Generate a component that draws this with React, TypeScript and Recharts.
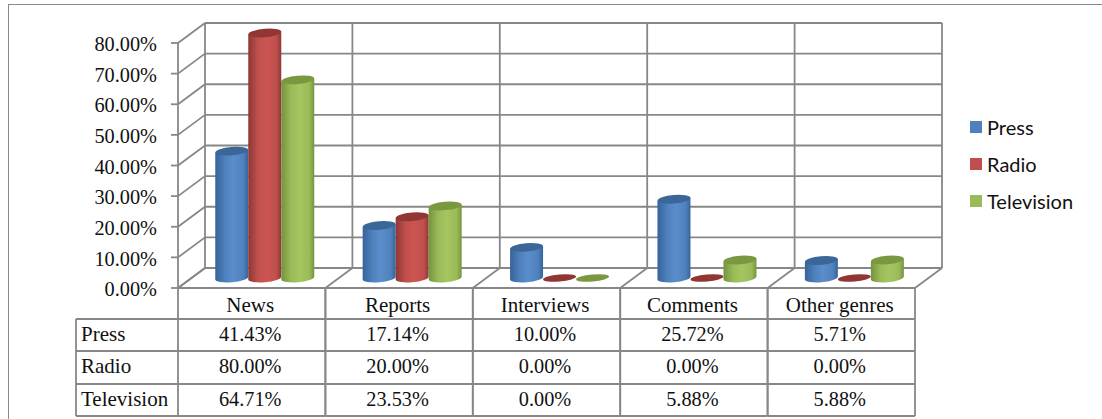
import React from 'react';
import { BarChart, Bar, XAxis, YAxis, CartesianGrid, Legend } from 'recharts';

const genres = ['News', 'Reports', 'Interviews', 'Comments', 'Other genres'];
const press = [41.43, 17.14, 10.0, 25.72, 5.71];
const radio = [80.0, 20.0, 0.0, 0.0, 0.0];
const television = [64.71, 23.53, 0.0, 5.88, 5.88];
const yTicks = [0, 10, 20, 30, 40, 50, 60, 70, 80];

const rows = [
  { name: 'Press', values: press, color: '#4f81bd', side: '#37639a', lit: '#5a8dcb', top: '#3a6797' },
  { name: 'Radio', values: radio, color: '#c0504d', side: '#8c3836', lit: '#cc5551', top: '#913634' },
  { name: 'Television', values: television, color: '#9bbb59', side: '#76933e', lit: '#a4c55f', top: '#7a9840' },
];

const data = genres.map((genre, i) => ({
  genre,
  Press: press[i],
  Radio: radio[i],
  Television: television[i],
}));

const WIDTH = 1102;
const HEIGHT = 419;
const LEFT = 178;
const RIGHT = 915;
const TOP = 43;
const BOTTOM = 288;
const BAND = (RIGHT - LEFT) / genres.length;
const GRID = '#878787';
const SERIF = '"Liberation Serif", serif';

// depth of the fake 3D box
const DEPTH_X = 27;
const DEPTH_Y = 20;

// table lines below the floor
const TABLE_LEFT = 76;
const TABLE_ROWS = [319, 351, 384, 416];

const pct = (v: number) => `${v.toFixed(2)}%`;

function wallLine(props: any) {
  const { x1, x2, y1, key } = props;
  return (
    <g key={key}>
      <line x1={x1} y1={y1} x2={x1 + DEPTH_X} y2={y1 - DEPTH_Y} stroke={GRID} strokeWidth={1.8} />
      <line x1={x1 + DEPTH_X} y1={y1 - DEPTH_Y} x2={x2 + DEPTH_X} y2={y1 - DEPTH_Y} stroke={GRID} strokeWidth={1.8} />
    </g>
  );
}

function wallColumn(props: any) {
  const { x1, y1, y2, key } = props;
  return (
    <g key={key}>
      <line x1={x1 + DEPTH_X} y1={y1 - DEPTH_Y} x2={x1 + DEPTH_X} y2={y2 - DEPTH_Y} stroke={GRID} strokeWidth={1.8} />
      <line x1={x1} y1={y2} x2={x1 + DEPTH_X} y2={y2 - DEPTH_Y} stroke={GRID} strokeWidth={1.8} />
    </g>
  );
}

function makeCylinder(index: number) {
  const row = rows[index];
  return function Cylinder(props: any) {
    const { x, y, width, height } = props;
    const cx = x + DEPTH_X / 2 - 1;
    const top = y - DEPTH_Y / 2;
    const bottom = top + height;
    const rx = width / 2;
    const ry = 4.2;
    const tilt = 1.4;
    const right = cx + width;
    return (
      <g>
        {height > 0 && (
          <path
            d={`M${cx},${top + tilt} L${cx},${bottom + tilt} A${rx},${ry} -5 0 0 ${right},${bottom - tilt} L${right},${top - tilt} Z`}
            fill={`url(#cyl${index})`}
          />
        )}
        <ellipse
          cx={cx + rx}
          cy={top}
          rx={rx}
          ry={height > 0 ? ry : 3.4}
          fill={row.top}
          transform={`rotate(-5 ${cx + rx} ${top})`}
        />
      </g>
    );
  };
}

function TableColumn(props: any) {
  const { x, index, payload } = props;
  const x0 = x - BAND / 2;
  const x1 = x + BAND / 2;
  const labelProps = { fontFamily: SERIF, fontSize: 21, fill: '#111' };
  const valueProps = { fontFamily: SERIF, fontSize: 20.3, fill: '#111' };
  return (
    <g>
      <line x1={x0} y1={BOTTOM} x2={x0} y2={TABLE_ROWS[3]} stroke={GRID} strokeWidth={1.8} />
      <line x1={x1} y1={BOTTOM} x2={x1} y2={TABLE_ROWS[3]} stroke={GRID} strokeWidth={1.8} />
      {TABLE_ROWS.map((ry) => (
        <line key={ry} x1={x0} y1={ry} x2={x1} y2={ry} stroke={GRID} strokeWidth={1.8} />
      ))}
      <text x={x - 1.5} y={312} textAnchor="middle" {...labelProps}>
        {payload.value}
      </text>
      {rows.map((row, r) => (
        <text key={row.name} x={x - 1.5} y={TABLE_ROWS[r] + 22} textAnchor="middle" {...valueProps}>
          {pct(row.values[index])}
        </text>
      ))}
      {index === 0 && (
        <g>
          <line x1={TABLE_LEFT} y1={TABLE_ROWS[0]} x2={TABLE_LEFT} y2={TABLE_ROWS[3]} stroke={GRID} strokeWidth={1.8} />
          {TABLE_ROWS.map((ry) => (
            <line key={ry} x1={TABLE_LEFT} y1={ry} x2={x0} y2={ry} stroke={GRID} strokeWidth={1.8} />
          ))}
          {rows.map((row, r) => (
            <text key={row.name} x={81} y={TABLE_ROWS[r] + 22} {...labelProps}>
              {row.name}
            </text>
          ))}
        </g>
      )}
    </g>
  );
}

function LegendList(props: any) {
  const { payload } = props;
  return (
    <div>
      {payload.map((item: any) => (
        <div
          key={item.value}
          style={{ display: 'flex', alignItems: 'center', height: 37, fontFamily: 'Lato, sans-serif', fontSize: 20, color: '#111' }}
        >
          <span style={{ width: 12, height: 12, background: item.color, marginRight: 5 }} />
          {item.value}
        </div>
      ))}
    </div>
  );
}

export default function App() {
  return (
    <div style={{ position: 'absolute', left: 0, top: 0, width: WIDTH, height: HEIGHT, background: '#fff' }}>
      <div
        style={{
          position: 'absolute',
          left: 8,
          top: 4,
          right: 0,
          bottom: 0,
          borderTop: '1.5px solid #8a8a8a',
          borderLeft: '1.5px solid #8a8a8a',
        }}
      />
      <BarChart
        width={WIDTH}
        height={HEIGHT}
        data={data}
        barCategoryGap="16.8%"
        barGap={0}
        margin={{ top: TOP, left: LEFT - 100, right: WIDTH - RIGHT, bottom: 0 }}
        style={{ position: 'absolute', left: 0, top: 0 }}
      >
        <defs>
          {rows.map((row, i) => (
            <linearGradient key={row.name} id={`cyl${i}`} x1="0" y1="0" x2="1" y2="0">
              <stop offset="0%" stopColor={row.side} />
              <stop offset="30%" stopColor={row.color} />
              <stop offset="55%" stopColor={row.lit} />
              <stop offset="85%" stopColor={row.color} />
              <stop offset="100%" stopColor={row.side} />
            </linearGradient>
          ))}
        </defs>
        <CartesianGrid
          horizontal={wallLine}
          vertical={wallColumn}
          verticalPoints={genres.map((_, i) => LEFT + i * BAND).concat(RIGHT)}
        />
        <XAxis
          dataKey="genre"
          height={HEIGHT - BOTTOM}
          interval={0}
          tick={TableColumn}
          tickLine={false}
          axisLine={{ stroke: GRID, strokeWidth: 1.8 }}
        />
        <YAxis
          width={100}
          domain={[0, 80]}
          ticks={yTicks}
          interval={0}
          tickFormatter={pct}
          tickSize={7}
          tickMargin={14}
          tick={{ fontFamily: SERIF, fontSize: 20.3, fill: '#111', dy: 1 }}
          tickLine={{ stroke: GRID, strokeWidth: 1.8 }}
          axisLine={{ stroke: GRID, strokeWidth: 1.8 }}
        />
        <Legend
          layout="vertical"
          align="center"
          verticalAlign="middle"
          content={LegendList}
          wrapperStyle={{ left: 970, top: 108, width: 125 }}
        />
        {rows.map((row, i) => (
          <Bar key={row.name} dataKey={row.name} fill={row.color} shape={makeCylinder(i)} isAnimationActive={false} />
        ))}
      </BarChart>
    </div>
  );
}
